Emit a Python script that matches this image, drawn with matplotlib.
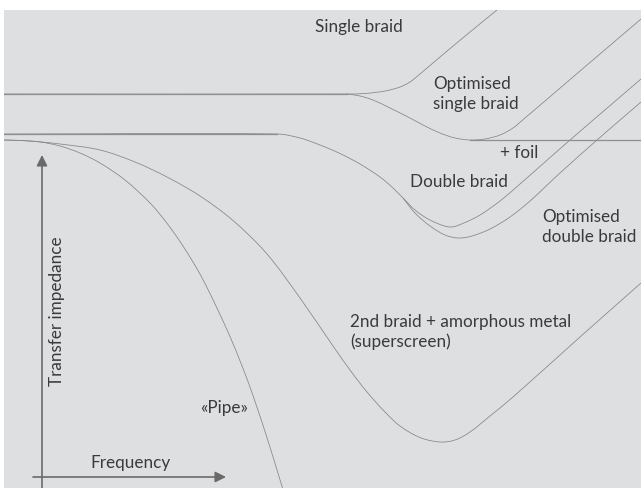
import math
import matplotlib.pyplot as plt
from matplotlib.path import Path
from matplotlib.patches import PathPatch

# curve points (x = frequency, y = impedance, picture units, y grows downward)
single_x = [4, 347, 365, 385, 400, 410, 420, 440, 470, 497]
single_y = [94, 94, 93.5, 91, 87, 82, 74, 57, 32, 10]

opt_single_x = [347, 360, 373, 390, 410, 423, 440, 455, 470, 485, 500, 513, 525, 573, 641]
opt_single_y = [94, 96, 100, 108, 118, 125, 133, 138, 140, 139, 135, 128, 118, 77, 19]

foil_x = [470, 641]
foil_y = [140, 140]

double_x = [4, 277, 300, 320, 340, 360, 380, 393, 403, 415, 430, 450, 465, 480, 500, 520, 545, 570, 641]
double_y = [134, 134, 138, 145, 153.5, 164, 177, 188, 198, 210, 220, 227, 222.5, 215, 201, 184, 162, 140, 79]

opt_double_x = [403, 415, 430, 445, 458, 472, 490, 510, 530, 560, 597, 641]
opt_double_y = [198, 213, 226, 235, 238, 236, 229, 217, 201, 173, 140, 102]

pipe_x = [4, 20, 40, 60, 80, 100, 125, 150, 166, 183, 200.5, 215.5, 231.5, 248.5, 265.5, 282.5]
pipe_y = [140, 140.5, 142, 146, 153, 163, 180, 203, 222, 246, 275, 305, 340, 383, 433, 488]

super_x = [4, 30, 60, 100, 135, 167, 200, 233, 267, 300, 333, 350, 367, 385, 400, 420, 440, 455, 470, 490, 513, 580, 641]
super_y = [140, 141, 144, 150, 162, 177, 196, 220.5, 254, 298, 346, 370, 392, 412, 426, 437.5, 442, 440, 432, 416, 397, 337, 283]

labels = [
    ("Single braid", 315, 27),
    ("Optimised\nsingle braid", 433, 94),
    ("+ foil", 500, 153),
    ("Double braid", 410, 182),
    ("Optimised\ndouble braid", 542, 227),
    ("2nd braid + amorphous metal\n(superscreen)", 350, 332),
    ("«Pipe»", 200, 408),
    ("Frequency", 90, 463),
]


def smooth_path(xs, ys):
    # smooth curve through the read points, drawn as cubic bezier segments
    pts = list(zip(xs, ys))
    n = len(pts)
    tang = []
    for i in range(n):
        a = pts[max(i - 1, 0)]
        b = pts[min(i + 1, n - 1)]
        dx, dy = b[0] - a[0], b[1] - a[1]
        d = math.hypot(dx, dy) or 1
        tang.append((dx / d, dy / d))
    verts = [pts[0]]
    codes = [Path.MOVETO]
    for i in range(n - 1):
        p1, p2 = pts[i], pts[i + 1]
        L = math.hypot(p2[0] - p1[0], p2[1] - p1[1]) / 3
        c1 = (p1[0] + tang[i][0] * L, p1[1] + tang[i][1] * L)
        c2 = (p2[0] - tang[i + 1][0] * L, p2[1] - tang[i + 1][1] * L)
        verts += [c1, c2, p2]
        codes += [Path.CURVE4] * 3
    return Path(verts, codes)


W, H = 641, 488
fig = plt.figure(figsize=(W / 100, H / 100), dpi=100)
fig.patch.set_facecolor("white")
ax = fig.add_axes([4 / W, 0, (W - 4) / W, (H - 10) / H])
ax.set_facecolor("#dedfe1")
ax.set_xlim(4, W)
ax.set_ylim(H, 10)
ax.axis("off")
ax.add_patch(plt.Rectangle((4, 10), W - 4, H - 10, color="#dedfe1", zorder=0))

curve_color = "#858585"
for xs, ys in [(single_x, single_y), (opt_single_x, opt_single_y), (double_x, double_y),
               (opt_double_x, opt_double_y), (pipe_x, pipe_y), (super_x, super_y)]:
    ax.add_patch(PathPatch(smooth_path(xs, ys), fill=False, edgecolor=curve_color, lw=0.55))
ax.plot(foil_x, foil_y, color="#8f8f8f", lw=0.9)
# flat parts look a bit heavier
ax.plot(single_x[:2], single_y[:2], color="#8f8f8f", lw=0.9)
ax.plot(double_x[:2], double_y[:2], color="#8f8f8f", lw=0.9)

txt_color = "#3a3a3a"
for text, x, y in labels:
    ax.text(x, y, text, ha="left", va="center", fontsize=12.3, color=txt_color,
            family="Lato", linespacing=1.3)
ax.text(57, 311, "Transfer impedance", rotation=90, ha="center", va="center",
        fontsize=12.3, color=txt_color, family="Lato")

# axis arrows
arrow = dict(arrowstyle="-|>", color="#6a6a6a", lw=1.2, mutation_scale=16, shrinkA=0, shrinkB=0)
ax.annotate("", xy=(42, 155), xytext=(42, 488), arrowprops=arrow)
ax.annotate("", xy=(226, 477), xytext=(33, 477), arrowprops=arrow)

fig.savefig("out.png", dpi=100, facecolor="white")
